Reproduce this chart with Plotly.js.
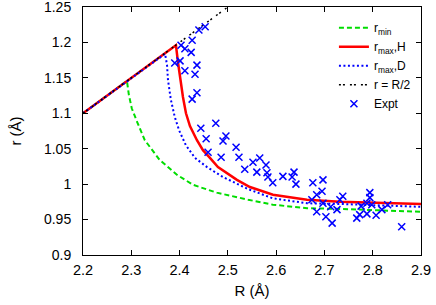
<!DOCTYPE html>
<html>
<head>
<meta charset="utf-8">
<script src="https://cdn.plot.ly/plotly-3.0.1.min.js"></script>
<style>html,body{margin:0;padding:0;background:#fff;}#chart{width:436px;height:305px;}</style>
</head>
<body>
<div id="chart"></div>
<script>
// r_min (green dashed)
const rminR = [2.2, 2.291, 2.295, 2.301, 2.312, 2.328, 2.359, 2.395, 2.428, 2.477, 2.542, 2.593, 2.664, 2.732, 2.900];
const rminr = [1.1, 1.1456, 1.126, 1.107, 1.088, 1.062, 1.034, 1.013, 0.999, 0.988, 0.978, 0.971, 0.966, 0.965, 0.961];
// r_max,H (red solid)
const rmaxHR = [2.2, 2.3925, 2.3967, 2.4008, 2.4070, 2.4133, 2.4215, 2.4360, 2.4484, 2.4629, 2.4795, 2.5188, 2.5457, 2.5934, 2.6638, 2.7321, 2.900];
const rmaxHr = [1.1, 1.196, 1.172, 1.151, 1.123, 1.100, 1.082, 1.062, 1.048, 1.037, 1.024, 1.006, 0.996, 0.985, 0.978, 0.975, 0.972];
// r_max,D (blue dotted)
const rmaxDR = [2.2, 2.370, 2.374, 2.376, 2.382, 2.390, 2.399, 2.413, 2.432, 2.457, 2.490, 2.542, 2.593, 2.664, 2.732, 2.900];
const rmaxDr = [1.1, 1.184, 1.168, 1.147, 1.119, 1.095, 1.076, 1.055, 1.037, 1.024, 1.010, 0.993, 0.980, 0.973, 0.972, 0.968];
// r = R/2 (black)
const halfR = [2.2, 2.5];
const halfr = [1.1, 1.25];
// Experimental points
const exptR = [2.453, 2.440, 2.426, 2.403, 2.411, 2.424, 2.401, 2.390, 2.436, 2.411, 2.432, 2.436, 2.426,
  2.475, 2.444, 2.496, 2.455, 2.490, 2.517, 2.459, 2.486, 2.523, 2.552, 2.566, 2.535, 2.579, 2.560, 2.581, 2.583,
  2.593, 2.614, 2.633, 2.637, 2.641, 2.676, 2.697, 2.695, 2.684, 2.674, 2.697, 2.684, 2.703, 2.716, 2.713, 2.726,
  2.732, 2.738, 2.767, 2.773, 2.776, 2.794, 2.794, 2.788, 2.798, 2.788, 2.807, 2.819, 2.831, 2.860];
const exptr = [1.222, 1.2175, 1.203, 1.196, 1.191, 1.186, 1.174, 1.171, 1.168, 1.160, 1.155, 1.129, 1.120,
  1.086, 1.079, 1.068, 1.064, 1.061, 1.052, 1.045, 1.038, 1.038, 1.031, 1.037, 1.021, 1.027, 1.017, 1.016, 1.010,
  1.002, 1.011, 1.010, 1.017, 1.000, 1.002, 1.006, 0.990, 0.985, 0.978, 0.973, 0.961, 0.954, 0.945, 0.968, 0.964,
  0.978, 0.983, 0.952, 0.957, 0.969, 0.988, 0.981, 0.973, 0.971, 0.958, 0.956, 0.964, 0.971, 0.940];
const xTicks = [2.2, 2.3, 2.4, 2.5, 2.6, 2.7, 2.8, 2.9];
const xTickText = ['2.2', '2.3', '2.4', '2.5', '2.6', '2.7', '2.8', '2.9'];
const yTicks = [0.9, 0.95, 1.0, 1.05, 1.1, 1.15, 1.2, 1.25];
const yTickText = ['0.9', '0.95', '1', '1.05', '1.1', '1.15', '1.2', '1.25'];

const FONT = 'Liberation Sans, Arial, Helvetica, sans-serif';
const traces = [
  {x: rminR, y: rminr, mode: 'lines', name: 'r<sub>min</sub>',
   line: {color: '#00dd00', width: 2, dash: '5px,3px'}},
  {x: rmaxHR, y: rmaxHr, mode: 'lines', name: 'r<sub>max</sub>,H',
   line: {color: '#ff0000', width: 2.5}},
  {x: rmaxDR, y: rmaxDr, mode: 'lines', name: 'r<sub>max</sub>,D',
   line: {color: '#0000ff', width: 2, dash: '2px,2.5px'}},
  {x: halfR, y: halfr, mode: 'lines', name: 'r = R/2',
   line: {color: '#000000', width: 1.5, dash: '2px,2px,2px,5px'}},
  {x: exptR, y: exptr, mode: 'markers', name: 'Expt',
   marker: {symbol: 'x-thin-open', size: 7, color: '#0000ff', line: {color: '#0000ff', width: 1.5}}}
];
const layout = {
  width: 436, height: 305,
  margin: {l: 83, r: 15, t: 7, b: 50},
  paper_bgcolor: '#fff', plot_bgcolor: '#fff',
  font: {family: FONT, size: 14, color: '#000'},
  showlegend: true,
  legend: {x: 0.985, y: 0.975, xanchor: 'right', yanchor: 'top', bgcolor: 'rgba(0,0,0,0)',
           font: {family: FONT, size: 12}, tracegroupgap: 0, itemwidth: 30},
  xaxis: {range: [2.2, 2.9], tickvals: xTicks, ticktext: xTickText, ticks: 'inside', ticklen: 5,
          showline: true, mirror: 'ticks', linecolor: '#000', linewidth: 1, tickcolor: '#000',
          showgrid: false, zeroline: false, ticklabelstandoff: 2, ticklabeloverflow: 'allow',
          tickfont: {family: FONT, size: 14.5},
          title: {text: 'R (Å)', standoff: 8, font: {family: FONT, size: 15}}},
  yaxis: {range: [0.9, 1.25], tickvals: yTicks, ticktext: yTickText, ticks: 'inside', ticklen: 5,
          showline: true, mirror: 'ticks', linecolor: '#000', linewidth: 1, tickcolor: '#000',
          showgrid: false, zeroline: false, ticklabelstandoff: 8, ticklabeloverflow: 'allow',
          tickfont: {family: FONT, size: 14},
          title: {text: 'r (Å)', standoff: 18, font: {family: FONT, size: 15}}}
};
Plotly.newPlot('chart', traces, layout, {displayModeBar: false, staticPlot: true});
</script>
</body>
</html>
